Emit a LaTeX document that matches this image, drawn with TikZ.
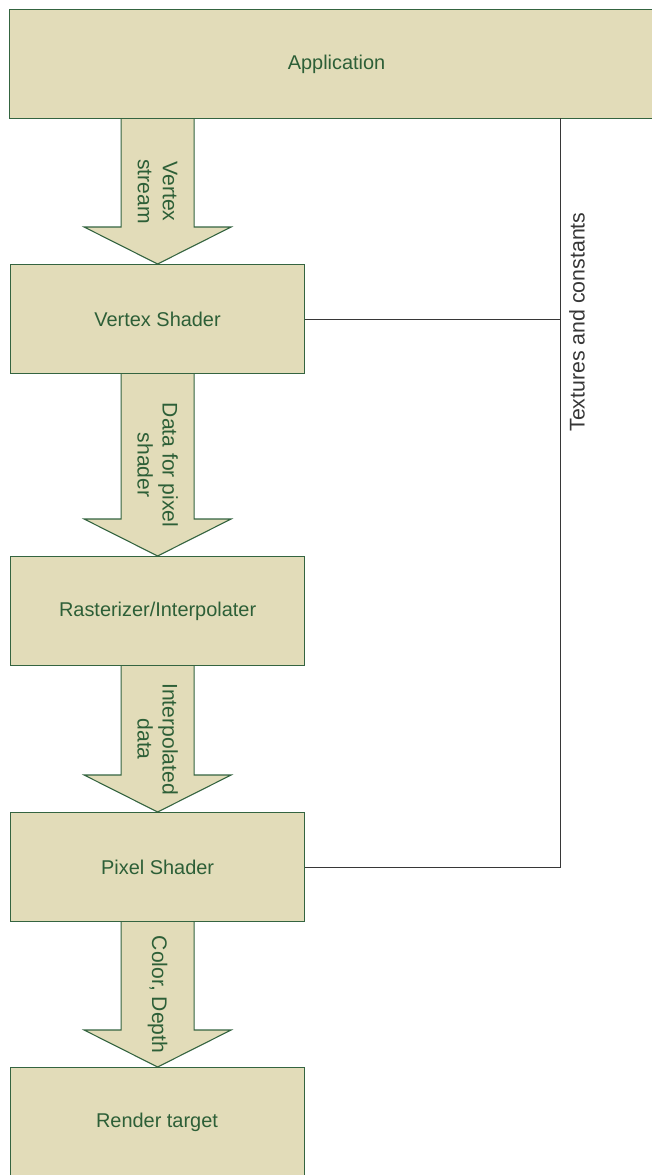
\documentclass[tikz,border=0pt]{standalone}
\usepackage{fontspec}
\setmainfont{Liberation Sans}
\usetikzlibrary{calc}
\definecolor{boxfill}{RGB}{226,220,185}
\definecolor{boxline}{RGB}{52,100,64}
\definecolor{txtgreen}{RGB}{45,95,55}
\definecolor{wirecol}{RGB}{55,55,55}
\newcommand\blockarrow[3]{%
  \fill[boxfill] ($(#1.south -| #2.north)+(-36.5,0)$) -- ($(#2.north)+(-36.5,-37)$) -- ($(#2.north)+(-73.5,-37)$) -- (#2.north) -- ($(#2.north)+(73.5,-37)$) -- ($(#2.north)+(36.5,-37)$) -- ($(#1.south -| #2.north)+(36.5,0)$) -- cycle;
  \draw[arrowline] ($(#1.south -| #2.north)+(-36.5,0)$) -- ($(#2.north)+(-36.5,-37)$) -- ($(#2.north)+(-73.5,-37)$) -- (#2.north) -- ($(#2.north)+(73.5,-37)$) -- ($(#2.north)+(36.5,-37)$) -- ($(#1.south -| #2.north)+(36.5,0)$);
  \path (#1.south -| #2.north) -- (#2.north) node[midway, rotate=-90, arrowlabel] {#3};
}
\begin{document}
\begin{tikzpicture}[x=1bp,y=-1bp,
  stage/.style={draw=boxline, fill=boxfill, line width=1.2bp, text=txtgreen,
    font=\fontsize{20}{24}\selectfont, anchor=north west, inner sep=0pt,
    minimum width=294bp, minimum height=109bp},
  arrowline/.style={draw=boxline, line width=1.1bp, line join=miter},
  arrowlabel/.style={text=txtgreen, font=\fontsize{21.2}{25}\selectfont, align=center, inner sep=0pt},
  wire/.style={draw=wirecol, line width=1bp},
  wirelabel/.style={text=wirecol, font=\fontsize{21.4}{24}\selectfont, rotate=90, inner sep=0pt}]
\useasboundingbox (0,0) rectangle (652,1175);
\node[stage, minimum width=654bp] (app) at (9,9) {Application};
\node[stage] (vs) at (10,264) {Vertex Shader};
\node[stage] (ras) at (10,556) {Rasterizer/Interpolater};
\node[stage] (ps) at (10,812) {Pixel Shader};
\node[stage, minimum height=115bp] (rt) at (10,1067) {};
\node[text=txtgreen, font=\fontsize{20}{24}\selectfont] (rtlabel) at (157,1122) {Render target};
\blockarrow{app}{vs}{Vertex\\stream}
\blockarrow{vs}{ras}{Data for pixel\\shader}
\blockarrow{ras}{ps}{Interpolated\\data}
\blockarrow{ps}{rt}{Color, Depth}
\coordinate (bustop) at (560,118);
\coordinate (bus1) at (vs.east -| bustop);
\coordinate (bus2) at (ps.east -| bustop);
\draw[wire] (bustop) -- (bus2) -- (ps.east);
\draw[wire] (vs.east) -- (bus1);
\node[wirelabel] (tex) at (577,322) {Textures and constants};
\end{tikzpicture}
\end{document}
